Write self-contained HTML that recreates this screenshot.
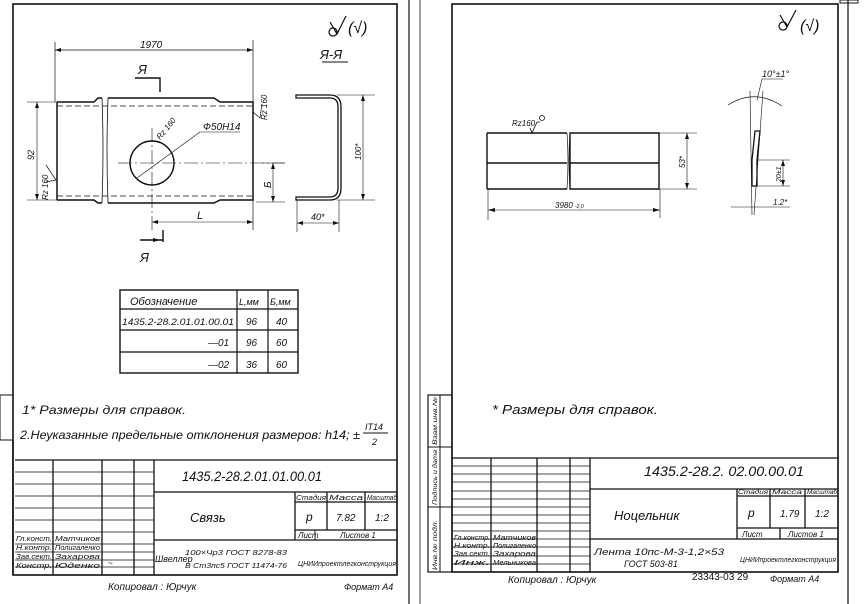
<!DOCTYPE html>
<html><head><meta charset="utf-8"><style>
html,body{margin:0;padding:0;background:#fff;}
svg{display:block}
text{font-family:"Liberation Sans","DejaVu Sans",sans-serif;font-style:italic;fill:#111}
</style></head><body>
<svg width="864" height="604" viewBox="0 0 864 604" xmlns="http://www.w3.org/2000/svg">
<g stroke="#111" fill="none" stroke-width="1">
<!-- LEFT SHEET -->
<rect x="13" y="4" width="384" height="571" stroke-width="1.6"/>
<line x1="409" y1="0" x2="409" y2="604" stroke-width="1.2"/>
<rect x="0" y="395" width="13" height="45"/>
<!-- dim 1970 -->
<line x1="55" y1="42" x2="55" y2="102" stroke-width=".7"/>
<line x1="253" y1="40" x2="253" y2="230" stroke-width=".7"/>
<line x1="55" y1="50" x2="253" y2="50" stroke-width=".7"/>
<!-- left part -->
<path d="M57 102 H94 L98 98 H102 M57 200 H94 L98 203 H102 M57 102 V200" stroke-width="1.5"/>
<path d="M102 98 Q104 150 102 203" stroke-width=".8"/>
<path d="M108 98 Q106 150 108 203" stroke-width=".8"/>
<path d="M108 98 H214 L220 102 H253 V200 H220 L214 203 H108" stroke-width="1.5"/>
<path d="M57 106 H253 M57 196 H253" stroke-dasharray="6 3" stroke-width=".7"/>
<circle cx="152" cy="163" r="22" stroke-width="1.4"/>
<line x1="118" y1="163" x2="285" y2="163" stroke-dasharray="14 3 2 3" stroke-width=".6"/>
<line x1="152" y1="128" x2="152" y2="232" stroke-dasharray="14 3 2 3" stroke-width=".6"/>
<line x1="137" y1="178" x2="200" y2="132" stroke-width=".6"/>
<line x1="200" y1="132" x2="240" y2="132" stroke-width=".6"/>
<!-- section marks -->
<path d="M135 78 H160 V92" stroke-width="1.4"/>
<path d="M140 240 H163 M163 230 V242" stroke-width="1.4"/>
<!-- dims Б, L, 92 -->
<line x1="262" y1="163" x2="285" y2="163" stroke-width=".6"/>
<line x1="256" y1="202" x2="285" y2="202" stroke-width=".6"/>
<line x1="273" y1="163" x2="273" y2="202" stroke-width=".6"/>
<line x1="152" y1="222" x2="253" y2="222" stroke-width=".6"/>
<line x1="37" y1="102" x2="37" y2="200" stroke-width=".6"/>
<line x1="27" y1="102" x2="57" y2="102" stroke-width=".6"/>
<line x1="27" y1="200" x2="57" y2="200" stroke-width=".6"/>
<path d="M46 165 L56 180 L46 182 M253 112 L260 118 L262 104" stroke-width=".7"/>
<!-- section A-A -->
<path d="M296 95 H330 Q341 95 341 107 V188 Q341 200 330 200 H296 V197 H330 Q338 197 338 188 V107 Q338 98 330 98 H296 Z" stroke-width="1.3"/>
<line x1="337" y1="95" x2="375" y2="95" stroke-width=".6"/>
<line x1="337" y1="200" x2="375" y2="200" stroke-width=".6"/>
<line x1="363" y1="95" x2="363" y2="200" stroke-width=".6"/>
<line x1="297" y1="200" x2="297" y2="232" stroke-width=".6"/>
<line x1="339" y1="200" x2="339" y2="232" stroke-width=".6"/>
<line x1="297" y1="223" x2="339" y2="223" stroke-width=".6"/>
<line x1="322" y1="62" x2="348" y2="62" stroke-width="1"/>
<!-- roughness -->
<path d="M330 22 L337 34 L346 16 M333 28 a4 4 0 1 0 0.1 0" stroke-width="1.2"/>
<!-- table -->
<rect x="120" y="290" width="178" height="83" stroke-width="1.4"/>
<path d="M120 309 H298 M120 330 H298 M120 352 H298 M237 290 V373 M268 290 V373" stroke-width="1.2"/>
<!-- left title block -->
<path d="M15 460 H397 M154 492 H397 M154 540 H397 M295 492 V540 M327 492 V530 M365 492 V530 M295 502 H397 M295 530 H397" stroke-width="1.3"/>
<path d="M53 460 V575 M102 460 V575 M134 460 V575 M154 460 V575" stroke-width="1.3"/>
<path d="M15 472 H154 M15 484 H154 M15 496 H154 M15 508 H154 M15 520 H154 M15 532 H154 M15 544 H154 M15 552 H154 M15 560 H154 M15 567 H154" stroke-width=".8"/>
<line x1="315" y1="530" x2="315" y2="540"/>
<line x1="13" y1="440" x2="13" y2="575" stroke-width="1.4"/>

<!-- RIGHT SHEET -->
<line x1="420" y1="0" x2="420" y2="604" stroke-width=".8"/>
<rect x="452" y="4" width="386" height="568" stroke-width="1.6"/>
<line x1="848" y1="0" x2="848" y2="604" stroke-width="1.2"/>
<rect x="428" y="395" width="24" height="177" stroke-width="1.2"/>
<line x1="440" y1="395" x2="440" y2="572"/>
<path d="M428 447 H452 M428 507 H452" />
<rect x="840" y="0" width="18" height="3"/>
<!-- strip -->
<path d="M487 133 H567 M487 189 H567 M487 133 V189 M487 163 H567" stroke-width="1.4"/>
<path d="M570 133 H659 V189 H570 Z M570 163 H659" stroke-width="1.4"/>
<path d="M567 133 Q569 160 567 189 M570 133 Q568 160 570 189" stroke-width=".7"/>
<path d="M659 133 H697 M659 189 H697 M687 133 V189" stroke-width=".6"/>
<path d="M488 189 V220 M660 189 V218 M488 210 H660" stroke-width=".6"/>
<path d="M530 128 L532 133 L537 122 H540" stroke-width=".8"/>
<circle cx="542" cy="118" r="2.5" stroke-width=".8"/>
<!-- side piece -->
<path d="M755 131 H760 L757 160 V186 H752 V160 Z" stroke-width="1.3"/>
<line x1="750" y1="91" x2="752" y2="215" stroke-width=".6"/>
<line x1="763" y1="91" x2="754" y2="215" stroke-width=".6"/>
<path d="M728 105 Q755 88 782 106" stroke-width=".7"/>
<path d="M757 100 L762 79 H783" stroke-width=".6"/>
<path d="M757 160 H790 M757 186 H790 M783 160 V186" stroke-width=".6"/>
<path d="M731 207 H790" stroke-width=".6"/>
<path d="M780 15 L787 27 L796 10 M783 22 a4 4 0 1 0 0.1 0" stroke-width="1.2"/>
<!-- right title block -->
<path d="M452 458 H838 M590 489 H838 M590 539 H838 M737 489 V539 M770 489 V528 M805 489 V528 M737 496 H838 M737 528 H838 M780 528 V539" stroke-width="1.3"/>
<path d="M491 458 V572 M537 458 V572 M570 458 V572 M590 458 V572" stroke-width="1.3"/>
<path d="M452 466 H590 M452 474 H590 M452 482 H590 M452 491 H590 M452 499 H590 M452 507 H590 M452 515 H590 M452 523 H590 M452 531 H590 M452 539 H590 M452 547 H590 M452 556 H590 M452 564 H590" stroke-width=".8"/>
</g>
<g fill="#111">
<path d="M55 50 l6 -2 v4z M253 50 l-6 -2 v4z M160 92 l0 0z M160 240 l-7 -2 v4z M152 222 l6 -2 v4z M253 222 l-6 -2 v4z M273 163 l-2 6 h4z M273 202 l-2 -6 h4z M37 102 l-2 6 h4z M37 200 l-2 -6 h4z M363 95 l-2 6 h4z M363 200 l-2 -6 h4z M297 223 l6 -2 v4z M339 223 l-6 -2 v4z M687 133 l-2 6 h4z M687 189 l-2 -6 h4z M488 210 l7 -2 v4z M660 210 l-7 -2 v4z M783 160 l-2 6 h4z M783 186 l-2 -6 h4z"/>
</g>
<!-- texts left -->
<text x="140" y="48" font-size="10">1970</text>
<text x="138" y="74" font-size="13">Я</text>
<text x="140" y="262" font-size="13">Я</text>
<text x="320" y="59" font-size="13">Я-Я</text>
<text x="348" y="33" font-size="16">(√)</text>
<text x="203" y="130" font-size="10">Ф50H14</text>
<text x="160" y="140" font-size="8" transform="rotate(-50 160 140)">Rz 160</text>
<text x="267" y="120" font-size="8" transform="rotate(-90 267 120)">Rz 160</text>
<text x="48" y="200" font-size="8" transform="rotate(-90 48 200)">Rz 160</text>
<text x="34" y="160" font-size="9" transform="rotate(-90 34 160)">92</text>
<text x="271" y="188" font-size="10" transform="rotate(-90 271 188)">Б</text>
<text x="197" y="219" font-size="11">L</text>
<text x="361" y="160" font-size="8" transform="rotate(-90 361 160)">100*</text>
<text x="311" y="220" font-size="9">40*</text>
<text x="130" y="305" font-size="11">Обозначение</text>
<text x="239" y="305" font-size="9">L,мм</text>
<text x="270" y="305" font-size="9">Б,мм</text>
<text x="122" y="325" font-size="9" textLength="112" lengthAdjust="spacingAndGlyphs">1435.2-28.2.01.01.00.01</text>
<text x="246" y="325" font-size="10">96</text><text x="276" y="325" font-size="10">40</text>
<text x="208" y="346" font-size="10">—01</text>
<text x="246" y="346" font-size="10">96</text><text x="276" y="346" font-size="10">60</text>
<text x="208" y="368" font-size="10">—02</text>
<text x="246" y="368" font-size="10">36</text><text x="276" y="368" font-size="10">60</text>
<text x="22" y="414" font-size="12" textLength="164" lengthAdjust="spacingAndGlyphs">1* Размеры для справок.</text>
<text x="20" y="439" font-size="12" textLength="340" lengthAdjust="spacingAndGlyphs">2.Неуказанные предельные отклонения размеров: h14; ±</text>
<text x="365" y="430" font-size="9">IT14</text><line x1="363" y1="433" x2="388" y2="433" stroke="#111"/>
<text x="372" y="445" font-size="9">2</text>
<text x="182" y="481" font-size="14" textLength="140" lengthAdjust="spacingAndGlyphs">1435.2-28.2.01.01.00.01</text>
<text x="190" y="522" font-size="13">Связь</text>
<text x="296" y="500" font-size="7" textLength="30" lengthAdjust="spacingAndGlyphs">Стадия</text>
<text x="329" y="500" font-size="7" textLength="34" lengthAdjust="spacingAndGlyphs">Масса</text>
<text x="367" y="500" font-size="7" textLength="30" lengthAdjust="spacingAndGlyphs">Масштаб</text>
<text x="306" y="521" font-size="12">р</text>
<text x="336" y="521" font-size="10">7.82</text>
<text x="375" y="521" font-size="10">1:2</text>
<text x="298" y="538" font-size="8">Лист</text>
<text x="340" y="538" font-size="8">Листов 1</text>
<text x="155" y="562" font-size="9">Швеллер</text>
<text x="185" y="555" font-size="7.5" textLength="102" lengthAdjust="spacingAndGlyphs">100×Чр3 ГОСТ 8278-83</text>
<text x="185" y="568" font-size="7.5" textLength="102" lengthAdjust="spacingAndGlyphs">В Ст3пс5 ГОСТ 11474-76</text>
<text x="298" y="566" font-size="7" textLength="98" lengthAdjust="spacingAndGlyphs">ЦНИИпроектлегконструкция</text>
<g font-size="7">
<text x="16" y="541" textLength="36" lengthAdjust="spacingAndGlyphs">Гл.конст.</text>
<text x="55" y="541" textLength="45" lengthAdjust="spacingAndGlyphs">Матчиков</text>
<text x="16" y="550" textLength="36" lengthAdjust="spacingAndGlyphs">Н.контр.</text>
<text x="55" y="550" textLength="45" lengthAdjust="spacingAndGlyphs">Полигаленко</text>
<text x="16" y="559" textLength="36" lengthAdjust="spacingAndGlyphs">Зав.сект.</text>
<text x="55" y="559" textLength="45" lengthAdjust="spacingAndGlyphs">Захарова</text>
<text x="16" y="568" textLength="36" lengthAdjust="spacingAndGlyphs">Констр.</text>
<text x="55" y="568" textLength="45" lengthAdjust="spacingAndGlyphs">Юденко</text>
</g>
<text x="108" y="566" font-size="8">~</text>
<text x="108" y="590" font-size="10">Копировал : Юрчук</text>
<text x="344" y="590" font-size="9">Формат А4</text>
<!-- texts right -->
<text x="800" y="31" font-size="16">(√)</text>
<text x="512" y="126" font-size="8">Rz160</text>
<text x="685" y="168" font-size="8" transform="rotate(-90 685 168)">53*</text>
<text x="555" y="208" font-size="8">3980</text><text x="575" y="208" font-size="5">-2,0</text>
<text x="762" y="77" font-size="9">10°±1°</text>
<text x="781" y="182" font-size="7" transform="rotate(-90 781 182)">20±1</text>
<text x="773" y="205" font-size="8">1.2*</text>
<text x="492" y="414" font-size="13" textLength="166" lengthAdjust="spacingAndGlyphs">* Размеры   для   справок.</text>
<text x="644" y="476" font-size="14" textLength="160" lengthAdjust="spacingAndGlyphs">1435.2-28.2. 02.00.00.01</text>
<text x="614" y="520" font-size="13">Ноцельник</text>
<text x="738" y="494" font-size="6.5" textLength="30" lengthAdjust="spacingAndGlyphs">Стадия</text>
<text x="772" y="494" font-size="6.5" textLength="30" lengthAdjust="spacingAndGlyphs">Масса</text>
<text x="807" y="494" font-size="6.5" textLength="30" lengthAdjust="spacingAndGlyphs">Масштаб</text>
<text x="748" y="517" font-size="12">р</text>
<text x="780" y="517" font-size="10">1.79</text>
<text x="815" y="517" font-size="10">1:2</text>
<text x="742" y="537" font-size="8">Лист</text>
<text x="788" y="537" font-size="8">Листов 1</text>
<text x="594" y="555" font-size="9" textLength="130" lengthAdjust="spacingAndGlyphs">Лента 10пс-М-3-1,2×53</text>
<text x="624" y="567" font-size="9">ГОСТ 503-81</text>
<text x="740" y="562" font-size="7" textLength="96" lengthAdjust="spacingAndGlyphs">ЦНИИпроектлегконструкция</text>
<g font-size="7">
<text x="454" y="540" textLength="36" lengthAdjust="spacingAndGlyphs">Гл.констр.</text>
<text x="493" y="540" textLength="43" lengthAdjust="spacingAndGlyphs">Матчиков</text>
<text x="454" y="548" textLength="36" lengthAdjust="spacingAndGlyphs">Н.контр.</text>
<text x="493" y="548" textLength="43" lengthAdjust="spacingAndGlyphs">Полигаленко</text>
<text x="454" y="556" textLength="36" lengthAdjust="spacingAndGlyphs">Зав.сект.</text>
<text x="493" y="556" textLength="43" lengthAdjust="spacingAndGlyphs">Захарова</text>
<text x="454" y="565" textLength="36" lengthAdjust="spacingAndGlyphs">Инж.</text>
<text x="493" y="565" textLength="43" lengthAdjust="spacingAndGlyphs">Мельникова</text>
</g>
<g font-size="6">
<text x="437" y="570" transform="rotate(-90 437 570)" textLength="50" lengthAdjust="spacingAndGlyphs">Инв.№ подл.</text>
<text x="437" y="505" transform="rotate(-90 437 505)" textLength="55" lengthAdjust="spacingAndGlyphs">Подпись и дата</text>
<text x="437" y="445" transform="rotate(-90 437 445)" textLength="48" lengthAdjust="spacingAndGlyphs">Взам.инв.№</text>
</g>
<text x="508" y="583" font-size="10">Копировал : Юрчук</text>
<text x="692" y="580" font-size="10" style="font-style:normal">23343-03  29</text>
<text x="770" y="582" font-size="9">Формат А4</text>
</svg>
</body></html>
